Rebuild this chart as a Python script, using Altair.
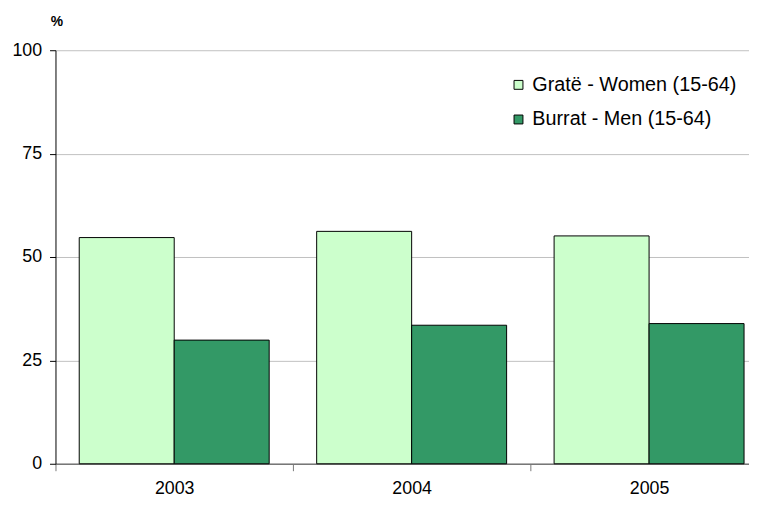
import altair as alt
import pandas as pd

years = ["2003", "2004", "2005"]
women = [54.7, 56.2, 55.1]
men = [29.9, 33.5, 33.9]
series = ["Gratë - Women (15-64)", "Burrat - Men (15-64)"]
colors = ["#CCFFCC", "#339966"]

rows = []
for i, yr in enumerate(years):
    rows.append({"year": yr, "series": series[0], "value": women[i]})
    rows.append({"year": yr, "series": series[1], "value": men[i]})
df = pd.DataFrame(rows)

font = "Liberation Sans"

chart = alt.Chart(df).mark_bar(stroke="black", strokeWidth=1).encode(
    x=alt.X(
        "year:N",
        sort=years,
        scale=alt.Scale(range=[0, 720], paddingInner=0, paddingOuter=0),
        axis=alt.Axis(
            title=None, labelAngle=0, tickBand="extent", tickSize=7, labelPadding=9,
            domainColor="#777777", tickColor="#777777", domainWidth=1.5,
            labelFontSize=18, labelColor="black", labelFont=font, grid=False,
        ),
    ),
    xOffset=alt.XOffset("series:N", sort=series,
                        scale=alt.Scale(paddingInner=0, paddingOuter=0.25)),
    y=alt.Y(
        "value:Q",
        scale=alt.Scale(domain=[0, 100], nice=False),
        axis=alt.Axis(
            values=[0, 25, 50, 75, 100], title="%", titleAngle=0, titleX=1, titleY=-29,
            titleAlign="center", titleBaseline="middle", titleFontWeight="bold",
            titleFontSize=14, titleFont=font, titleColor="black",
            labelFontSize=18, labelFont=font, labelColor="black", labelPadding=8,
            tickSize=6, tickColor="black", domainColor="black",
            gridColor="#c0c0c0", gridWidth=1,
        ),
    ),
    color=alt.Color(
        "series:N",
        sort=series,
        scale=alt.Scale(domain=series, range=colors),
        legend=alt.Legend(
            title=None, orient="none", legendX=458, legendY=25,
            symbolType="square", symbolSize=81, symbolStrokeColor="black",
            symbolStrokeWidth=1, labelFontSize=20, labelFont=font, labelColor="black",
            rowPadding=15, labelOffset=4, labelLimit=400,
        ),
    ),
).properties(
    width=697,
    height=418,
    autosize=alt.AutoSizeParams(type="none"),
    padding={"left": 48, "top": 40, "right": 4, "bottom": 40},
).configure_view(stroke=None)

chart.save("out.html", embed_options={"renderer": "svg", "actions": False})
